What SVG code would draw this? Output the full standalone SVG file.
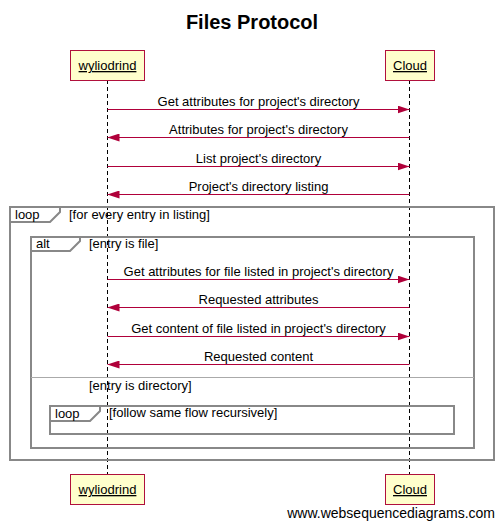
<svg xmlns="http://www.w3.org/2000/svg" width="504" height="528" viewBox="0 0 504 528">
<style>
text{font-family:"Liberation Sans",Arial,sans-serif;font-size:13px;fill:#000}
.title{font-size:20px;font-weight:bold}
.pbox{fill:#ffffcc;stroke:#b0103c;stroke-width:1}
.pname{text-decoration:underline}
.life{stroke:#000;stroke-width:1;stroke-dasharray:4,3;fill:none}
.msg{stroke:#b0003a;stroke-width:1;fill:none}
.frame{fill:none;stroke:#888;stroke-width:2}
.sep{stroke:#aaa;stroke-width:1}
.wm{font-size:14px}
</style>
<defs>
<marker id="ah" markerWidth="12" markerHeight="8" refX="12" refY="4" orient="auto" markerUnits="userSpaceOnUse">
<path d="M0,0 L12,4 L0,8 Z" fill="#b0003a"/>
</marker>
</defs>
<rect width="504" height="528" fill="#fff"/>
<text class="title" x="252" y="29" text-anchor="middle">Files Protocol</text>
<g id="lifelines">
<line class="life" x1="107.5" y1="80" x2="107.5" y2="474"/>
<line class="life" x1="409.5" y1="80" x2="409.5" y2="474"/>
</g>
<g id="frames">
<path class="frame" d="M10,207 H494 V460 H10 Z"/>
<path class="frame" d="M10,207 V222 H50 L60,212 V207"/>
<text x="15" y="219">loop</text>
<text x="69" y="219">[for every entry in listing]</text>
<path class="frame" d="M31,237 H474 V448 H31 Z"/>
<path class="frame" d="M31,237 V251 H70 L80,241 V237"/>
<text x="36" y="248">alt</text>
<text x="89" y="248">[entry is file]</text>
<line class="sep" x1="31" y1="377.5" x2="474" y2="377.5"/>
<text x="89" y="390">[entry is directory]</text>
<path class="frame" d="M50,406 H454 V434 H50 Z"/>
<path class="frame" d="M50,406 V421 H90 L100,411 V406"/>
<text x="55" y="418">loop</text>
<text x="109" y="417">[follow same flow recursively]</text>
</g>
<g id="connectors">
<line class="msg" x1="107.5" y1="109.5" x2="409.5" y2="109.5" marker-end="url(#ah)"/>
<text x="258.5" y="106" text-anchor="middle">Get attributes for project's directory</text>
<line class="msg" x1="409.5" y1="137.5" x2="107.5" y2="137.5" marker-end="url(#ah)"/>
<text x="258.5" y="134" text-anchor="middle">Attributes for project's directory</text>
<line class="msg" x1="107.5" y1="166.5" x2="409.5" y2="166.5" marker-end="url(#ah)"/>
<text x="258.5" y="163" text-anchor="middle">List project's directory</text>
<line class="msg" x1="409.5" y1="194.5" x2="107.5" y2="194.5" marker-end="url(#ah)"/>
<text x="258.5" y="191" text-anchor="middle">Project's directory listing</text>
<line class="msg" x1="107.5" y1="279.5" x2="409.5" y2="279.5" marker-end="url(#ah)"/>
<text x="258.5" y="276" text-anchor="middle">Get attributes for file listed in project's directory</text>
<line class="msg" x1="409.5" y1="307.5" x2="107.5" y2="307.5" marker-end="url(#ah)"/>
<text x="258.5" y="304" text-anchor="middle">Requested attributes</text>
<line class="msg" x1="107.5" y1="336.5" x2="409.5" y2="336.5" marker-end="url(#ah)"/>
<text x="258.5" y="333" text-anchor="middle">Get content of file listed in project's directory</text>
<line class="msg" x1="409.5" y1="364.5" x2="107.5" y2="364.5" marker-end="url(#ah)"/>
<text x="258.5" y="361" text-anchor="middle">Requested content</text>
</g>
<g id="wyliodrind-top">
<rect class="pbox" x="70.5" y="50.5" width="74" height="30"/>
<text class="pname" x="107.5" y="70" text-anchor="middle">wyliodrind</text>
</g>
<g id="cloud-top">
<rect class="pbox" x="385.5" y="50.5" width="49" height="30"/>
<text class="pname" x="410" y="70" text-anchor="middle">Cloud</text>
</g>
<g id="wyliodrind-bottom">
<rect class="pbox" x="70.5" y="474.5" width="74" height="30"/>
<text class="pname" x="107.5" y="494" text-anchor="middle">wyliodrind</text>
</g>
<g id="cloud-bottom">
<rect class="pbox" x="385.5" y="474.5" width="49" height="30"/>
<text class="pname" x="410" y="494" text-anchor="middle">Cloud</text>
</g>
<text class="wm" x="495" y="518" text-anchor="end">www.websequencediagrams.com</text>
</svg>
